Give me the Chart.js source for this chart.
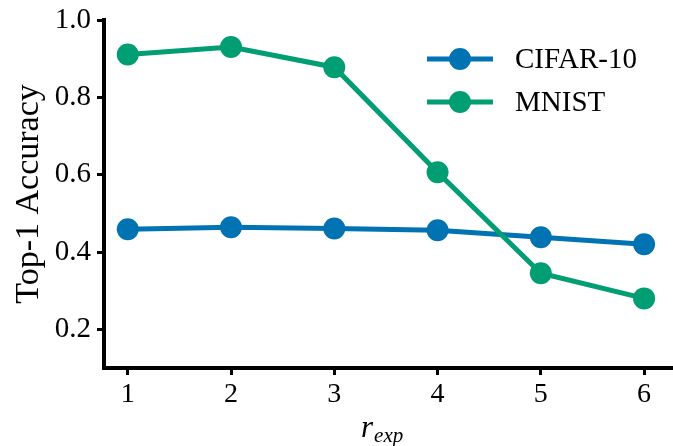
<!DOCTYPE html>
<html>
<head>
<meta charset="utf-8">
<script src="https://cdn.jsdelivr.net/npm/chart.js@4"></script>
<style>
  html, body { margin: 0; padding: 0; background: #fff; }
</style>
</head>
<body>
<canvas id="myChart" width="673" height="446"></canvas>
<script>
// values
var rExp = [1, 2, 3, 4, 5, 6];
var cifar10 = [0.459, 0.464, 0.461, 0.456, 0.438, 0.420];
var mnist = [0.911, 0.930, 0.878, 0.606, 0.345, 0.280];
var yTicks = [0.2, 0.4, 0.6, 0.8, 1.0];
var seriesNames = ['CIFAR-10', 'MNIST'];
var colors = ['#0173b2', '#029e73'];

var serif = 'Liberation Serif, DejaVu Serif, serif';

function pts(ys) {
    return rExp.map(function (x, i) { return {x: x, y: ys[i]}; });
}

// legend like matplotlib: line + marker, then label
var legendPlugin = {
    id: 'mplLegend',
    afterDraw: function (chart) {
        var ctx = chart.ctx;
        var x0 = 427, x1 = 493, ys = [59, 102];
        ctx.save();
        chart.data.datasets.forEach(function (ds, i) {
            var y = ys[i];
            ctx.strokeStyle = ds.borderColor;
            ctx.lineWidth = 5;
            ctx.beginPath();
            ctx.moveTo(x0, y);
            ctx.lineTo(x1, y);
            ctx.stroke();
            ctx.fillStyle = ds.backgroundColor;
            ctx.beginPath();
            ctx.arc((x0 + x1) / 2, y, 11, 0, Math.PI * 2);
            ctx.fill();
            ctx.fillStyle = '#000';
            ctx.font = '29px ' + serif;
            ctx.textBaseline = 'middle';
            ctx.textAlign = 'left';
            ctx.fillText(ds.label, 515, y + 1);
        });
        ctx.restore();
    }
};

// x axis title r_exp (italic with subscript)
var xTitlePlugin = {
    id: 'xTitle',
    afterDraw: function (chart) {
        var ctx = chart.ctx;
        ctx.save();
        ctx.fillStyle = '#000';
        ctx.textBaseline = 'alphabetic';
        ctx.textAlign = 'left';
        ctx.font = 'italic 31px ' + serif;
        ctx.fillText('r', 361, 437);
        var w = ctx.measureText('r').width;
        ctx.font = 'italic 21px ' + serif;
        ctx.fillText('exp', 361 + w + 1, 442);
        ctx.restore();
    }
};

var ctx = document.getElementById('myChart');
var myChart = new Chart(ctx, {
    type: 'line',
    data: {
        datasets: [{
            label: seriesNames[0],
            data: pts(cifar10),
            borderColor: colors[0],
            backgroundColor: colors[0],
            borderWidth: 5,
            pointRadius: 11,
            pointBorderWidth: 0,
            order: 1
        }, {
            label: seriesNames[1],
            data: pts(mnist),
            borderColor: colors[1],
            backgroundColor: colors[1],
            borderWidth: 5,
            pointRadius: 11,
            pointBorderWidth: 0,
            order: 0
        }]
    },
    options: {
        responsive: false,
        animation: false,
        layout: {autoPadding: false, padding: {top: 20, right: 0, left: 0, bottom: 0}},
        plugins: {
            legend: {display: false},
            tooltip: {enabled: false}
        },
        scales: {
            x: {
                type: 'linear',
                min: 0.77,
                max: 6.28,
                afterBuildTicks: function (s) {
                    s.ticks = rExp.map(function (v) { return {value: v}; });
                },
                afterFit: function (s) {
                    s.height = 78;
                    s.paddingLeft = 0;
                    s.paddingRight = 0;
                },
                border: {display: true, color: '#000', width: 4},
                grid: {drawOnChartArea: false, tickLength: 7, tickWidth: 3, tickColor: '#000'},
                ticks: {
                    color: '#000',
                    font: {family: serif, size: 28},
                    padding: 3,
                    maxRotation: 0,
                    callback: function (v) { return String(v); }
                }
            },
            y: {
                min: 0.1,
                max: 1.0,
                afterBuildTicks: function (s) {
                    s.ticks = yTicks.map(function (v) { return {value: v}; });
                },
                afterFit: function (s) {
                    s.width = 104;
                    s.paddingTop = 0;
                    s.paddingBottom = 0;
                },
                border: {display: true, color: '#000', width: 4},
                grid: {drawOnChartArea: false, tickLength: 7, tickWidth: 3, tickColor: '#000'},
                ticks: {
                    color: '#000',
                    font: {family: serif, size: 29},
                    padding: 6,
                    callback: function (v) { return v.toFixed(1); }
                },
                title: {
                    display: true,
                    text: 'Top-1 Accuracy',
                    color: '#000',
                    font: {family: serif, size: 34},
                    padding: {top: 9, bottom: 0}
                }
            }
        }
    },
    plugins: [legendPlugin, xTitlePlugin]
});
</script>
</body>
</html>
